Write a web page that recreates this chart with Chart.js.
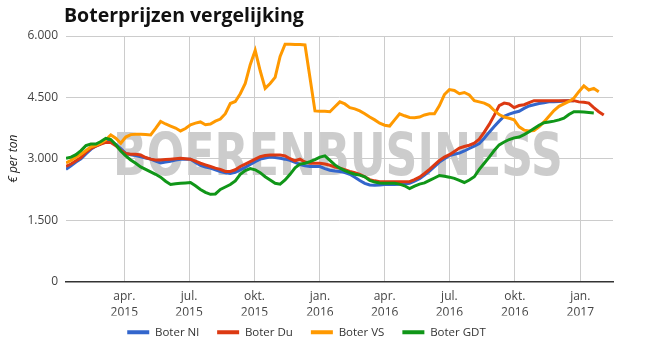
<!DOCTYPE html>
<html>
<head>
<meta charset="utf-8">
<script src="https://cdn.jsdelivr.net/npm/chart.js@4/dist/chart.umd.min.js"></script>
<style>
  html, body { margin: 0; padding: 0; background: #fff; }
</style>
</head>
<body>
<canvas id="lineChart" width="671" height="361"></canvas>
<script>
const chartTitle = "Boterprijzen vergelijking";
const axisTitle = "€ per ton";
const watermark = "BOERENBUSINESS";

// weekly prices (euro per ton), first week below
const firstWeek = "2015-01-09";
const lastDate = "2017-02-16";

const seriesNames = ["Boter Nl", "Boter Du", "Boter VS", "Boter GDT"];
const seriesColors = ["#3366cc", "#dc3912", "#ff9900", "#109618"];

const boterNl = [
  2740, 2830, 2920, 3000, 3120, 3230, 3310, 3370, 3420, 3430,
  3350, 3250, 3130, 3100, 3080, 3050, 3020, 2990, 2940, 2900,
  2920, 2940, 2970, 2990, 2990, 2990, 2910, 2840, 2800, 2770,
  2730, 2690, 2660, 2640, 2670, 2730, 2790, 2860, 2930, 2990,
  3020, 3040, 3030, 3010, 2990, 2960, 2910, 2860, 2830, 2810,
  2810, 2810, 2760, 2720, 2700, 2690, 2660, 2620, 2550, 2470,
  2400, 2360, 2350, 2360, 2370, 2370, 2370, 2375, 2385, 2400,
  2450, 2510, 2600, 2700, 2810, 2920, 3000, 3080, 3110, 3140,
  3190, 3250, 3310, 3370, 3500, 3650, 3790, 3920, 4040, 4090,
  4130, 4160, 4230, 4290, 4320, 4350, 4370, 4390, 4395, 4400,
  4410, 4420, 4420
];
const boterDu = [
  2810, 2870, 2950, 3030, 3160, 3250, 3310, 3360, 3400, 3400,
  3320, 3210, 3130, 3110, 3110, 3090, 3030, 2990, 2970, 2970,
  2980, 2990, 3000, 3010, 3000, 2990, 2940, 2890, 2850, 2810,
  2770, 2740, 2690, 2690, 2730, 2810, 2870, 2930, 2990, 3050,
  3080, 3090, 3090, 3090, 3070, 3000, 2950, 2990, 2920, 2890,
  2890, 2890, 2870, 2840, 2800, 2770, 2730, 2690, 2660, 2620,
  2560, 2490, 2460, 2440, 2440, 2440, 2440, 2440, 2440, 2440,
  2490, 2550, 2640, 2740, 2850, 2960, 3040, 3100, 3180, 3260,
  3300, 3330, 3380, 3480, 3650, 3840, 4060, 4300, 4360, 4340,
  4250, 4300, 4320, 4370, 4420, 4420, 4420, 4420, 4420, 4420,
  4420, 4420, 4420, 4390, 4380, 4360, 4250, 4150, 4070
];
const boterVS = [
  2900, 2960, 3040, 3110, 3200, 3290, 3330, 3380, 3460, 3580,
  3500, 3380, 3530, 3590, 3600, 3600, 3590, 3580, 3740, 3910,
  3850, 3800, 3750, 3680, 3740, 3830, 3870, 3900, 3830, 3850,
  3920, 3970, 4100, 4350, 4400, 4590, 4840, 5300, 5650, 5150,
  4720, 4840, 4990, 5500, 5800, 5800, 5790, 5790, 5780, 4980,
  4170, 4160, 4160, 4150, 4270, 4390, 4340, 4250, 4220, 4170,
  4100, 4020, 3950, 3870, 3820, 3800, 3950, 4100, 4050, 4010,
  4000, 4020, 4070, 4100, 4100, 4300, 4570, 4690, 4670, 4590,
  4620, 4560, 4420, 4390, 4360, 4300, 4180, 4080, 4020, 3990,
  3950, 3780, 3700, 3680, 3690, 3780, 3900, 4040, 4180, 4280,
  4340, 4400, 4480, 4640, 4780, 4680, 4720, 4640
];
const boterGDT = [
  3010, 3040, 3100, 3200, 3320, 3360, 3360, 3420, 3500, 3470,
  3340, 3190, 3070, 2970, 2890, 2800, 2740, 2680, 2620, 2550,
  2450, 2370, 2390, 2400, 2410, 2420, 2340, 2250, 2180, 2130,
  2140, 2250, 2310, 2370, 2460, 2620, 2710, 2760, 2730, 2660,
  2560, 2480, 2400, 2380, 2480, 2620, 2780, 2870, 2890, 2930,
  2980, 3040, 3070, 2960, 2850, 2770, 2710, 2660, 2620, 2600,
  2560, 2470, 2430, 2410, 2400, 2400, 2400, 2380, 2340, 2270,
  2330, 2380, 2410, 2470, 2530, 2590, 2570, 2550, 2520, 2470,
  2420, 2480, 2560, 2740, 2890, 3040, 3200, 3340, 3410, 3470,
  3510, 3530, 3590, 3660, 3740, 3820, 3880, 3900, 3920, 3950,
  3990, 4080, 4150, 4150, 4140, 4130, 4120
];

const quarterDates = ["2015-04-01", "2015-07-01", "2015-10-01", "2016-01-01",
                      "2016-04-01", "2016-07-01", "2016-10-01", "2017-01-01"];
const quarterLabels = [["apr.", "2015"], ["jul.", "2015"], ["okt.", "2015"], ["jan.", "2016"],
                       ["apr.", "2016"], ["jul.", "2016"], ["okt.", "2016"], ["jan.", "2017"]];
const yTicks = [0, 1500, 3000, 4500, 6000];

const FONT = '"Open Sans", sans-serif';

// days since 1 jan 2015
function dayOf(s) {
  const [y, m, d] = s.split("-").map(Number);
  return (Date.UTC(y, m - 1, d) - Date.UTC(2015, 0, 1)) / 86400000;
}
const startDay = dayOf(firstWeek);
const quarterDays = quarterDates.map(dayOf);

function toPoints(values) {
  return values.map((v, i) => ({ x: startDay + 7 * i, y: v }));
}
function fmt(v) {
  return String(v).replace(/\B(?=(\d{3})+(?!\d))/g, ".");
}

const allSeries = [boterNl, boterDu, boterVS, boterGDT];

const decor = {
  id: "decor",
  afterLayout(chart) {
    // legend sits a little closer to the axis labels
    chart.legend.top -= 7;
    chart.legend.bottom -= 7;
  },
  beforeDatasetsDraw(chart) {
    const { ctx, chartArea } = chart;
    ctx.save();
    ctx.font = 'bold 58px "DejaVu Sans"';
    const w = ctx.measureText(watermark).width;
    ctx.translate(chartArea.left + 47, chartArea.top + 139);
    ctx.scale(450 / w, 1);
    ctx.fillStyle = "#cccccc";
    ctx.textBaseline = "alphabetic";
    ctx.fillText(watermark, 0, 0);
    ctx.restore();
  },
  afterDraw(chart) {
    const { ctx } = chart;
    ctx.save();
    ctx.font = "bold 19.5px " + FONT;
    ctx.fillStyle = "#111";
    ctx.textBaseline = "alphabetic";
    ctx.fillText(chartTitle, 64, 22);
    ctx.restore();
  }
};

new Chart(document.getElementById("lineChart"), {
  type: "line",
  data: {
    datasets: allSeries.map((vals, i) => ({
      label: seriesNames[i],
      data: toPoints(vals),
      borderColor: seriesColors[i],
      backgroundColor: seriesColors[i],
      borderWidth: 3,
      pointRadius: 0,
      tension: 0,
      fill: false,
      order: 4 - i
    }))
  },
  options: {
    responsive: false,
    animation: false,
    layout: { padding: { top: 36, right: 58, bottom: 6, left: 0 } },
    plugins: {
      tooltip: { enabled: false },
      legend: {
        position: "bottom",
        labels: {
          boxWidth: 22,
          boxHeight: 4,
          padding: 18,
          color: "#333",
          font: { family: FONT, size: 11.5 },
          sort: (a, b) => a.datasetIndex - b.datasetIndex,
          generateLabels: (chart) =>
            Chart.defaults.plugins.legend.labels.generateLabels(chart)
              .map(l => ({ ...l, lineWidth: 0 }))
        }
      }
    },
    scales: {
      x: {
        type: "linear",
        min: startDay,
        max: dayOf(lastDate),
        afterBuildTicks: s => { s.ticks = quarterDays.map(v => ({ value: v })); },
        afterFit: s => { s.height = 34; },
        ticks: {
          autoSkip: false,
          maxRotation: 0,
          padding: 7,
          color: "#444",
          font: { family: FONT, size: 12, lineHeight: 1.35 },
          callback: (v, i) => quarterLabels[i]
        },
        grid: { color: "#cccccc", drawTicks: false },
        border: { color: "#333", width: 1.5 }
      },
      y: {
        min: 0,
        max: 6000,
        afterBuildTicks: s => { s.ticks = yTicks.map(v => ({ value: v })); },
        afterFit: s => { s.width = 66; },
        ticks: {
          padding: 8,
          color: "#444",
          font: { family: FONT, size: 12 },
          callback: v => fmt(v)
        },
        grid: { color: "#cccccc", drawTicks: false },
        border: { display: false },
        title: {
          display: true,
          text: axisTitle,
          color: "#222",
          padding: { top: 6, bottom: 4 },
          font: { family: FONT, size: 12, style: "italic" }
        }
      }
    }
  },
  plugins: [decor]
});
</script>
</body>
</html>
